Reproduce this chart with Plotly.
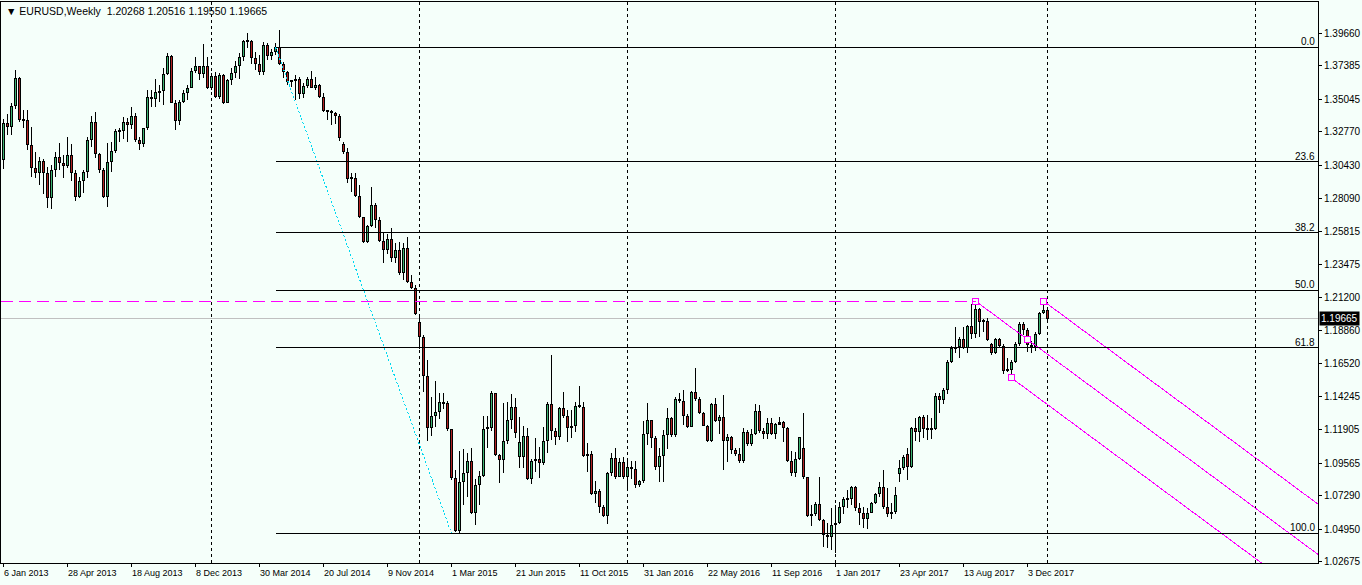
import plotly.graph_objects as go
import pandas as pd

# ---------------- data (EURUSD weekly) ----------------
first_week = "2013-01-06"

opens = [
    1.3078, 1.3335, 1.3311, 1.3456, 1.3649, 1.3358, 1.3356, 1.3181, 1.3020, 1.2990,
    1.3071, 1.2987, 1.2815, 1.3008, 1.3097, 1.3055, 1.3034, 1.3111, 1.2985, 1.2822,
    1.2932, 1.2997, 1.3218, 1.3342, 1.3118, 1.3008, 1.2822, 1.3064, 1.3141, 1.3281,
    1.3280, 1.3342, 1.3325, 1.3386, 1.3218, 1.3188, 1.3300, 1.3516, 1.3505, 1.3551,
    1.3561, 1.3677, 1.3805, 1.3479, 1.3353, 1.3486, 1.3544, 1.3584, 1.3700, 1.3735,
    1.3679, 1.3735, 1.3579, 1.3668, 1.3521, 1.3672, 1.3477, 1.3637, 1.3689, 1.3735,
    1.3796, 1.3907, 1.3910, 1.3793, 1.3752, 1.3696, 1.3882, 1.3808, 1.3835, 1.3866,
    1.3747, 1.3691, 1.3626, 1.3630, 1.3645, 1.3537, 1.3595, 1.3645, 1.3584, 1.3603,
    1.3521, 1.3421, 1.3416, 1.3409, 1.3388, 1.3190, 1.3132, 1.2946, 1.2955, 1.2829,
    1.2678, 1.2508, 1.2617, 1.2764, 1.2659, 1.2512, 1.2451, 1.2526, 1.2390, 1.2451,
    1.2286, 1.2460, 1.2225, 1.2185, 1.1943, 1.1842, 1.1570, 1.1205, 1.1291, 1.1315,
    1.1387, 1.1377, 1.1195, 1.0853, 1.0487, 1.0824, 1.0888, 1.0974, 1.0610, 1.0808,
    1.0872, 1.1198, 1.1201, 1.1447, 1.1015, 1.0980, 1.1110, 1.1260, 1.1349, 1.1004,
    1.0999, 1.1148, 1.0846, 1.0976, 1.0986, 1.0962, 1.1114, 1.1370, 1.1186, 1.1144,
    1.1342, 1.1290, 1.1207, 1.1216, 1.1358, 1.1354, 1.1009, 1.1020, 1.0743, 1.0766,
    1.0650, 1.0592, 1.0888, 1.0992, 1.0864, 1.0967, 1.0859, 1.0929, 1.0920, 1.0806,
    1.0834, 1.1160, 1.1258, 1.1132, 1.0934, 1.1009, 1.1155, 1.1276, 1.1155, 1.1405,
    1.1393, 1.1288, 1.1214, 1.1454, 1.1404, 1.1307, 1.1221, 1.1113, 1.1370, 1.1253,
    1.1279, 1.1113, 1.1144, 1.1050, 1.1025, 1.0974, 1.1174, 1.1090, 1.1160, 1.1323,
    1.1185, 1.1160, 1.1237, 1.1160, 1.1232, 1.1244, 1.1202, 1.0976, 1.0887, 1.0988,
    1.1062, 1.0859, 1.0592, 1.0603, 1.0673, 1.0561, 1.0456, 1.0445, 1.0526, 1.0538,
    1.0650, 1.0706, 1.0710, 1.0790, 1.0643, 1.0612, 1.0566, 1.0612, 1.0678, 1.0741,
    1.0794, 1.0654, 1.0600, 1.0615, 1.0880, 1.0927, 1.1020, 1.0934, 1.1207, 1.1179,
    1.1284, 1.1197, 1.1207, 1.1197, 1.1428, 1.1400, 1.1470, 1.1668, 1.1761, 1.1773,
    1.1827, 1.1761, 1.1920, 1.1859, 1.2036, 1.1948, 1.1952, 1.1789, 1.1726, 1.1827,
    1.1780, 1.1603, 1.1610, 1.1663, 1.1789, 1.1931, 1.1889, 1.1785, 1.1773, 1.1859,
    1.2006, 1.20268,
]

highs = [
    1.3363, 1.3403, 1.3474, 1.3707, 1.3661, 1.3428, 1.3428, 1.3311, 1.3137, 1.3102,
    1.3085, 1.3032, 1.3043, 1.3137, 1.3195, 1.3113, 1.3237, 1.3188, 1.3008, 1.2962,
    1.3008, 1.3241, 1.3386, 1.3416, 1.3125, 1.3025, 1.3195, 1.3202, 1.3295, 1.3300,
    1.3376, 1.3374, 1.3451, 1.3404, 1.3240, 1.3305, 1.3568, 1.3568, 1.3644, 1.3602,
    1.3719, 1.3824, 1.3812, 1.3498, 1.3498, 1.3568, 1.3602, 1.3719, 1.3801, 1.3738,
    1.3887, 1.3801, 1.3684, 1.3690, 1.3685, 1.3680, 1.3645, 1.3720, 1.3773, 1.3824,
    1.3915, 1.3966, 1.3920, 1.3830, 1.3810, 1.3906, 1.3895, 1.3854, 1.3894, 1.3987,
    1.3765, 1.3700, 1.3638, 1.3672, 1.3661, 1.3614, 1.3656, 1.3700, 1.3661, 1.3610,
    1.3544, 1.3428, 1.3426, 1.3411, 1.3398, 1.3206, 1.3160, 1.2990, 1.2985, 1.2904,
    1.2682, 1.2625, 1.2887, 1.2775, 1.2680, 1.2577, 1.2560, 1.2600, 1.2500, 1.2507,
    1.2495, 1.2542, 1.2274, 1.2204, 1.1994, 1.1855, 1.1680, 1.1423, 1.1534, 1.1452,
    1.1450, 1.1393, 1.1200, 1.0911, 1.1046, 1.1055, 1.1032, 1.1062, 1.0848, 1.0906,
    1.1290, 1.1290, 1.1466, 1.1451, 1.1023, 1.1380, 1.1388, 1.1442, 1.1412, 1.1279,
    1.1218, 1.1202, 1.0990, 1.1132, 1.1069, 1.1214, 1.1385, 1.1715, 1.1202, 1.1353,
    1.1459, 1.1330, 1.1330, 1.1389, 1.1498, 1.1388, 1.1097, 1.1044, 1.0836, 1.0780,
    1.0666, 1.0898, 1.1027, 1.1062, 1.0993, 1.0999, 1.0970, 1.0974, 1.0974, 1.0841,
    1.1253, 1.1377, 1.1260, 1.1147, 1.1062, 1.1190, 1.1342, 1.1284, 1.1423, 1.1447,
    1.1470, 1.1305, 1.1463, 1.1621, 1.1418, 1.1318, 1.1226, 1.1380, 1.1416, 1.1295,
    1.1435, 1.1160, 1.1150, 1.1062, 1.1062, 1.1207, 1.1190, 1.1197, 1.1372, 1.1365,
    1.1202, 1.1272, 1.1272, 1.1240, 1.1279, 1.1250, 1.1210, 1.1044, 1.1039, 1.1144,
    1.1307, 1.0862, 1.0666, 1.0690, 1.0860, 1.0570, 1.0543, 1.0643, 1.0666, 1.0690,
    1.0720, 1.0771, 1.0800, 1.0800, 1.0680, 1.0650, 1.0643, 1.0690, 1.0748, 1.0826,
    1.0911, 1.0783, 1.0680, 1.0794, 1.0981, 1.1016, 1.1062, 1.1214, 1.1272, 1.1290,
    1.1295, 1.1295, 1.1272, 1.1447, 1.1447, 1.1482, 1.1680, 1.1777, 1.1913, 1.1843,
    1.1913, 1.1924, 1.2069, 1.2092, 1.2041, 1.1966, 1.1970, 1.1796, 1.1831, 1.1835,
    1.1790, 1.1691, 1.1680, 1.1803, 1.1943, 1.1948, 1.1901, 1.1810, 1.1873, 1.2018,
    1.2092, 1.20516,
]

lows = [
    1.3013, 1.3256, 1.3253, 1.3432, 1.3346, 1.3300, 1.3148, 1.2962, 1.2950, 1.2904,
    1.2843, 1.2745, 1.2736, 1.2962, 1.3008, 1.2952, 1.3025, 1.2934, 1.2794, 1.2815,
    1.2845, 1.2950, 1.3171, 1.3090, 1.2985, 1.2810, 1.2752, 1.2992, 1.3125, 1.3206,
    1.3225, 1.3202, 1.3293, 1.3206, 1.3150, 1.3170, 1.3290, 1.3451, 1.3451, 1.3486,
    1.3463, 1.3672, 1.3474, 1.3288, 1.3323, 1.3474, 1.3498, 1.3579, 1.3684, 1.3637,
    1.3649, 1.3575, 1.3568, 1.3509, 1.3507, 1.3470, 1.3476, 1.3600, 1.3650, 1.3642,
    1.3770, 1.3863, 1.3750, 1.3705, 1.3672, 1.3674, 1.3777, 1.3776, 1.3812, 1.3742,
    1.3649, 1.3603, 1.3588, 1.3498, 1.3505, 1.3509, 1.3580, 1.3579, 1.3568, 1.3509,
    1.3411, 1.3358, 1.3323, 1.3328, 1.3211, 1.3117, 1.2915, 1.2857, 1.2822, 1.2671,
    1.2500, 1.2501, 1.2612, 1.2601, 1.2507, 1.2356, 1.2420, 1.2367, 1.2361, 1.2274,
    1.2239, 1.2220, 1.2174, 1.1995, 1.1755, 1.1459, 1.1114, 1.1150, 1.1210, 1.1270,
    1.1340, 1.1186, 1.0840, 1.0480, 1.0462, 1.0666, 1.0720, 1.0600, 1.0527, 1.0666,
    1.0860, 1.1067, 1.1186, 1.1011, 1.0822, 1.0888, 1.1093, 1.1195, 1.1132, 1.0922,
    1.0922, 1.0838, 1.0813, 1.0899, 1.0853, 1.0946, 1.1027, 1.1120, 1.1086, 1.1120,
    1.1275, 1.1109, 1.1132, 1.1174, 1.1346, 1.0998, 1.0899, 1.0735, 1.0678, 1.0613,
    1.0585, 1.0531, 1.0871, 1.0850, 1.0860, 1.0849, 1.0780, 1.0848, 1.0783, 1.0789,
    1.0818, 1.1086, 1.1067, 1.0911, 1.0829, 1.0825, 1.1057, 1.1144, 1.1144, 1.1376,
    1.1225, 1.1205, 1.1210, 1.1390, 1.1300, 1.1215, 1.1109, 1.1109, 1.1249, 1.1160,
    1.0911, 1.0969, 1.1020, 1.1011, 1.0957, 1.0957, 1.1081, 1.1081, 1.1155, 1.1170,
    1.1125, 1.1125, 1.1155, 1.1125, 1.1225, 1.1109, 1.0969, 1.0869, 1.0860, 1.0981,
    1.0850, 1.0585, 1.0519, 1.0590, 1.0557, 1.0375, 1.0363, 1.0352, 1.0328, 1.0533,
    1.0603, 1.0643, 1.0666, 1.0627, 1.0526, 1.0503, 1.0496, 1.0608, 1.0670, 1.0724,
    1.0640, 1.0580, 1.0570, 1.0600, 1.0829, 1.0911, 1.0841, 1.0927, 1.1114, 1.1109,
    1.1132, 1.1121, 1.1128, 1.1190, 1.1312, 1.1370, 1.1440, 1.1660, 1.1726, 1.1691,
    1.1757, 1.1726, 1.1823, 1.1831, 1.1843, 1.1878, 1.1813, 1.1715, 1.1720, 1.1766,
    1.1580, 1.1594, 1.1554, 1.1656, 1.1780, 1.1855, 1.1738, 1.1726, 1.1743, 1.1855,
    1.2000, 1.19550,
]

closes = [
    1.3335, 1.3311, 1.3456, 1.3649, 1.3358, 1.3356, 1.3181, 1.3020, 1.2990, 1.3071,
    1.2987, 1.2815, 1.3008, 1.3097, 1.3055, 1.3034, 1.3111, 1.2985, 1.2822, 1.2932,
    1.2997, 1.3218, 1.3342, 1.3118, 1.3008, 1.2822, 1.3064, 1.3141, 1.3281, 1.3280,
    1.3342, 1.3325, 1.3386, 1.3218, 1.3188, 1.3300, 1.3516, 1.3505, 1.3551, 1.3561,
    1.3677, 1.3805, 1.3479, 1.3353, 1.3486, 1.3544, 1.3584, 1.3700, 1.3735, 1.3679,
    1.3735, 1.3579, 1.3668, 1.3521, 1.3672, 1.3477, 1.3637, 1.3689, 1.3735, 1.3796,
    1.3907, 1.3910, 1.3793, 1.3752, 1.3696, 1.3882, 1.3808, 1.3835, 1.3866, 1.3747,
    1.3691, 1.3626, 1.3630, 1.3645, 1.3537, 1.3595, 1.3645, 1.3584, 1.3603, 1.3521,
    1.3421, 1.3416, 1.3409, 1.3388, 1.3234, 1.3132, 1.2946, 1.2955, 1.2829, 1.2678,
    1.2508, 1.2617, 1.2764, 1.2659, 1.2512, 1.2451, 1.2526, 1.2390, 1.2451, 1.2286,
    1.2460, 1.2225, 1.2185, 1.2001, 1.1842, 1.1570, 1.1205, 1.1291, 1.1315, 1.1387,
    1.1377, 1.1195, 1.0853, 1.0487, 1.0824, 1.0888, 1.0974, 1.0610, 1.0808, 1.0872,
    1.1198, 1.1201, 1.1447, 1.1015, 1.0980, 1.1110, 1.1260, 1.1349, 1.1172, 1.1109,
    1.1148, 1.0846, 1.0976, 1.0986, 1.0962, 1.1114, 1.1370, 1.1186, 1.1144, 1.1342,
    1.1290, 1.1207, 1.1216, 1.1358, 1.1354, 1.1009, 1.1020, 1.0743, 1.0766, 1.0650,
    1.0592, 1.0888, 1.0992, 1.0864, 1.0967, 1.0859, 1.0929, 1.0920, 1.0806, 1.0834,
    1.1160, 1.1258, 1.1132, 1.0934, 1.1009, 1.1155, 1.1276, 1.1155, 1.1405, 1.1393,
    1.1288, 1.1214, 1.1454, 1.1404, 1.1307, 1.1221, 1.1113, 1.1370, 1.1253, 1.1279,
    1.1113, 1.1144, 1.1050, 1.1025, 1.0974, 1.1174, 1.1090, 1.1160, 1.1323, 1.1185,
    1.1160, 1.1237, 1.1160, 1.1232, 1.1244, 1.1202, 1.0976, 1.0887, 1.0988, 1.1139,
    1.0859, 1.0592, 1.0603, 1.0673, 1.0561, 1.0456, 1.0445, 1.0526, 1.0538, 1.0650,
    1.0706, 1.0710, 1.0790, 1.0643, 1.0612, 1.0566, 1.0612, 1.0678, 1.0741, 1.0794,
    1.0654, 1.0600, 1.0615, 1.0736, 1.0927, 1.1004, 1.0934, 1.1207, 1.1179, 1.1284,
    1.1197, 1.1207, 1.1197, 1.1428, 1.1400, 1.1470, 1.1668, 1.1761, 1.1773, 1.1827,
    1.1761, 1.1920, 1.1859, 1.2036, 1.1948, 1.1952, 1.1820, 1.1726, 1.1827, 1.1780,
    1.1603, 1.1610, 1.1663, 1.1789, 1.1931, 1.1889, 1.1785, 1.1773, 1.1859, 1.2006,
    1.2029, 1.19665,
]

date_labels = [
    "6 Jan 2013", "28 Apr 2013", "18 Aug 2013", "8 Dec 2013", "30 Mar 2014",
    "20 Jul 2014", "9 Nov 2014", "1 Mar 2015", "21 Jun 2015", "11 Oct 2015",
    "31 Jan 2016", "22 May 2016", "11 Sep 2016", "1 Jan 2017", "23 Apr 2017",
    "13 Aug 2017", "3 Dec 2017",
]
year_grid = ["2014-01-05", "2015-01-04", "2016-01-03", "2017-01-01", "2018-01-07", "2019-01-06"]
price_ticks = [1.39660, 1.37385, 1.35045, 1.32770, 1.30430, 1.28090, 1.25815, 1.23475,
               1.21200, 1.18860, 1.16520, 1.14245, 1.11905, 1.09565, 1.07290, 1.04950, 1.02675]

fib_levels = [0.0, 23.6, 38.2, 50.0, 61.8, 100.0]
fib_anchor_a = ("2014-04-27", 1.3868)   # 0.0
fib_anchor_b = ("2015-03-01", 1.0468)   # 100.0

hline_price = 1.2092                      # dashed magenta level
pitch_p1 = ("2017-09-03", 1.2092)
pitch_p2 = ("2017-11-05", 1.1554)
pitch_p3 = ("2017-12-31", 1.2092)

last_price = 1.19665
header_text = "EURUSD,Weekly&nbsp;&nbsp;1.20268 1.20516 1.19550 1.19665"

# ---------------- styling ----------------
BG = "#F5FFFA"
UP = "#3CB371"
DOWN = "#B22222"
MAG = "#FF00FF"
FONT = "Liberation Sans, Arial, sans-serif"

W, H = 1362, 585
ML, MR, MT, MB = 1, 44, 2, 22
px_per_week = 4.0
plot_w = W - ML - MR
plot_h = H - MT - MB

n = min(len(opens), len(highs), len(lows), len(closes))
weeks = pd.date_range(first_week, periods=n, freq="7D")
week = pd.Timedelta(days=7)
x_left = weeks[0] - week * (2.5 / px_per_week)      # first bar centred on a pixel column
x_right = x_left + week * (plot_w / px_per_week)
y_range = [1.02602, 1.41828]
price_per_px = (y_range[1] - y_range[0]) / plot_h
MS_WEEK = 7 * 86400000

fig = go.Figure()

# wicks
wx, wy = [], []
for d, h, l in zip(weeks, highs[:n], lows[:n]):
    wx += [d, d, None]
    wy += [h, l, None]
fig.add_trace(go.Scatter(x=wx, y=wy, mode="lines", line=dict(color="black", width=1),
                         hoverinfo="skip", showlegend=False))

# bodies: black 3px block
ob_base, ob_h = [], []
for i in range(n):
    lo, hi = min(opens[i], closes[i]), max(opens[i], closes[i])
    ob_base.append(lo)
    ob_h.append(max(hi - lo, price_per_px))
fig.add_trace(go.Bar(x=list(weeks), base=ob_base, y=ob_h, width=0.75 * MS_WEEK,
                     marker=dict(color="black", line=dict(width=0)),
                     hoverinfo="skip", showlegend=False))
# coloured 1px core of each body
for up in (True, False):
    cx, cy = [], []
    for i in range(n):
        if (closes[i] >= opens[i]) != up:
            continue
        lo, hi = min(opens[i], closes[i]), max(opens[i], closes[i])
        if hi - lo <= 2 * price_per_px:
            continue
        cx += [weeks[i], weeks[i], None]
        cy += [lo + price_per_px, hi - price_per_px, None]
    fig.add_trace(go.Scatter(x=cx, y=cy, mode="lines",
                             line=dict(color=UP if up else DOWN, width=1),
                             hoverinfo="skip", showlegend=False))

shapes = []
for g in year_grid:
    shapes.append(dict(type="line", xref="x", yref="paper", x0=g, x1=g, y0=0, y1=1,
                       line=dict(color="black", width=1, dash="3px,3px"), layer="below"))
shapes.append(dict(type="line", xref="paper", yref="y", x0=0, x1=1, y0=last_price, y1=last_price,
                   line=dict(color="#C0C0C0", width=1), layer="below"))
shapes.append(dict(type="line", xref="x", yref="y", x0=x_left, x1=pitch_p1[0],
                   y0=hline_price, y1=hline_price, line=dict(color=MAG, width=1, dash="12px,6px")))

fa, fb = fib_anchor_a[1], fib_anchor_b[1]
annotations = []
for lv in fib_levels:
    p = fa - (fa - fb) * lv / 100.0
    shapes.append(dict(type="line", xref="x", yref="y", x0=fib_anchor_a[0], x1=x_right,
                       y0=p, y1=p, line=dict(color="black", width=1)))
    annotations.append(dict(xref="paper", yref="y", x=1, y=p, xanchor="right", yanchor="bottom",
                            text=f"{lv:.1f}", showarrow=False, xshift=-1, yshift=-2,
                            font=dict(family=FONT, size=10, color="black")))

fig.add_trace(go.Scatter(x=[fib_anchor_a[0], fib_anchor_b[0]], y=[fa, fb], mode="lines",
                         line=dict(color="#00D8F0", width=1, dash="2px,2px"),
                         hoverinfo="skip", showlegend=False))

# Andrews pitchfork
t1, t2, t3 = (pd.Timestamp(p[0]) for p in (pitch_p1, pitch_p2, pitch_p3))
mid_t = t2 + (t3 - t2) / 2
mid_p = (pitch_p2[1] + pitch_p3[1]) / 2
slope = (mid_p - pitch_p1[1]) / ((mid_t - t1) / pd.Timedelta(days=1))
def ray(t0, p0):
    days = (x_right - t0) / pd.Timedelta(days=1)
    return [t0, x_right], [p0, p0 + slope * days]
for t0, p0 in ((t1, pitch_p1[1]), (t2, pitch_p2[1]), (t3, pitch_p3[1])):
    xs, ys = ray(t0, p0)
    fig.add_trace(go.Scatter(x=xs, y=ys, mode="lines", line=dict(color=MAG, width=1),
                             hoverinfo="skip", showlegend=False))
fig.add_trace(go.Scatter(x=[t1, t2, t3, mid_t], y=[pitch_p1[1], pitch_p2[1], pitch_p3[1], mid_p],
                         mode="markers",
                         marker=dict(symbol="square", size=6, color=BG, line=dict(color=MAG, width=1)),
                         hoverinfo="skip", showlegend=False))

label_dates = [pd.to_datetime(s, format="%d %b %Y") for s in date_labels]
for d, s in zip(label_dates, date_labels):
    annotations.append(dict(xref="x", yref="paper", x=d, y=0, xanchor="left", yanchor="top",
                            text=s, showarrow=False, yshift=-3, xshift=-2,
                            font=dict(family=FONT, size=9, color="black")))

annotations.append(dict(xref="paper", yref="paper", x=0, y=1, xanchor="left", yanchor="top",
                        text="▼ " + header_text, showarrow=False, xshift=3, yshift=-1,
                        font=dict(family=FONT, size=10.5, color="black")))
annotations.append(dict(xref="paper", yref="y", x=1, y=last_price, xanchor="left", yanchor="middle",
                        text=f"{last_price:.5f}", showarrow=False, xshift=1, bgcolor="black",
                        borderpad=1, font=dict(family=FONT, size=10, color="white")))

fig.update_layout(
    width=W, height=H,
    margin=dict(l=ML, r=MR, t=MT, b=MB),
    paper_bgcolor=BG, plot_bgcolor=BG,
    barmode="overlay", bargap=0,
    showlegend=False, hovermode=False,
    shapes=shapes, annotations=annotations,
    xaxis=dict(type="date", range=[x_left, x_right], showgrid=False, zeroline=False,
               showline=True, linecolor="black", linewidth=1, mirror=True,
               ticks="outside", ticklen=3, tickcolor="black", tickvals=label_dates,
               showticklabels=False, automargin=False, fixedrange=True),
    yaxis=dict(side="right", range=y_range, showgrid=False, zeroline=False,
               showline=True, linecolor="black", linewidth=1, mirror=True,
               ticks="outside", ticklen=3, tickcolor="black",
               tickvals=price_ticks, ticktext=[f"{v:.5f}" for v in price_ticks],
               tickfont=dict(family=FONT, size=10, color="black"),
               automargin=False, fixedrange=True),
)

post = (
    "document.body.style.margin='0';document.body.style.padding='0';"
    "document.body.style.background='" + BG + "';"
    "var s=document.createElement('style');"
    "s.innerHTML='.main-svg path{shape-rendering:crispEdges;}';"
    "document.head.appendChild(s);"
)
fig.write_html("out.html", config={"displayModeBar": False}, post_script=post)
